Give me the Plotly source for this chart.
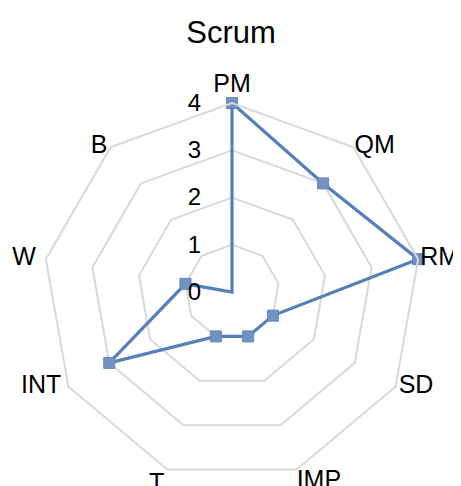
import plotly.graph_objects as go

categories = ["PM", "QM", "RM", "SD", "IMP", "T", "INT", "W", "B"]
values = [4, 3, 4, 1, 1, 1, 3, 1, 0]
radial_ticks = [0, 1, 2, 3, 4]
title_text = "Scrum"

# category label placement (Excel-style: label beside the outer vertex)
label_positions = ["top center", "middle right", "middle right", "middle right",
                   "bottom right", "bottom left", "middle left", "middle left", "middle left"]
# invisible marker sizes that set each label's gap from its vertex
label_gaps = [6, 0.1, 1.6, 3.2, 0, 3.2, 9.6, 14.4, 3.2]

theta = categories + categories[:1]
r = values + values[:1]
r_max = radial_ticks[-1]

W, H = 453, 478  # page body adds an 8px offset

fig = go.Figure()
fig.add_trace(go.Scatterpolar(
    r=r, theta=theta, mode="lines+markers",
    line=dict(color="#5580b8", width=3.2),
    marker=dict(symbol="square", size=11, color="#7391c2",
                line=dict(color="#6486bb", width=1)),
    showlegend=False, hoverinfo="skip",
))
fig.add_trace(go.Scatterpolar(
    r=[r_max] * len(categories), theta=categories, mode="markers+text",
    text=categories, textposition=label_positions,
    marker=dict(size=label_gaps, color="rgba(0,0,0,0)", line=dict(width=0)),
    textfont=dict(size=25, color="black", family="Liberation Sans, Arial, sans-serif"),
    cliponaxis=False, showlegend=False, hoverinfo="skip",
))

fig.update_layout(
    width=W, height=H,
    margin=dict(l=35, r=40, t=95, b=5),
    paper_bgcolor="white", plot_bgcolor="white",
    font=dict(family="Liberation Sans, Arial, sans-serif", size=24, color="black"),
    title=dict(text=title_text, x=223 / W, xanchor="center", y=1 - 24 / H, yanchor="middle",
               font=dict(size=31, color="black")),
    polar=dict(
        bgcolor="white",
        gridshape="linear",
        domain=dict(x=[0, 1], y=[0, 1]),
        angularaxis=dict(
            rotation=90, direction="clockwise",
            categoryorder="array", categoryarray=categories,
            showgrid=False, showline=True, linecolor="#d9d9d9", linewidth=2,
            ticks="", showticklabels=False,
        ),
        radialaxis=dict(
            range=[0, r_max], tickvals=radial_ticks, ticktext=[str(v) for v in radial_ticks],
            angle=90, tickangle=90, side="counterclockwise",
            showgrid=True, gridcolor="#d9d9d9", gridwidth=2,
            showline=False, ticks="outside", ticklen=22, tickcolor="rgba(0,0,0,0)",
            tickfont=dict(size=24, color="black"),
        ),
    ),
)

fig.write_html("out.html")
